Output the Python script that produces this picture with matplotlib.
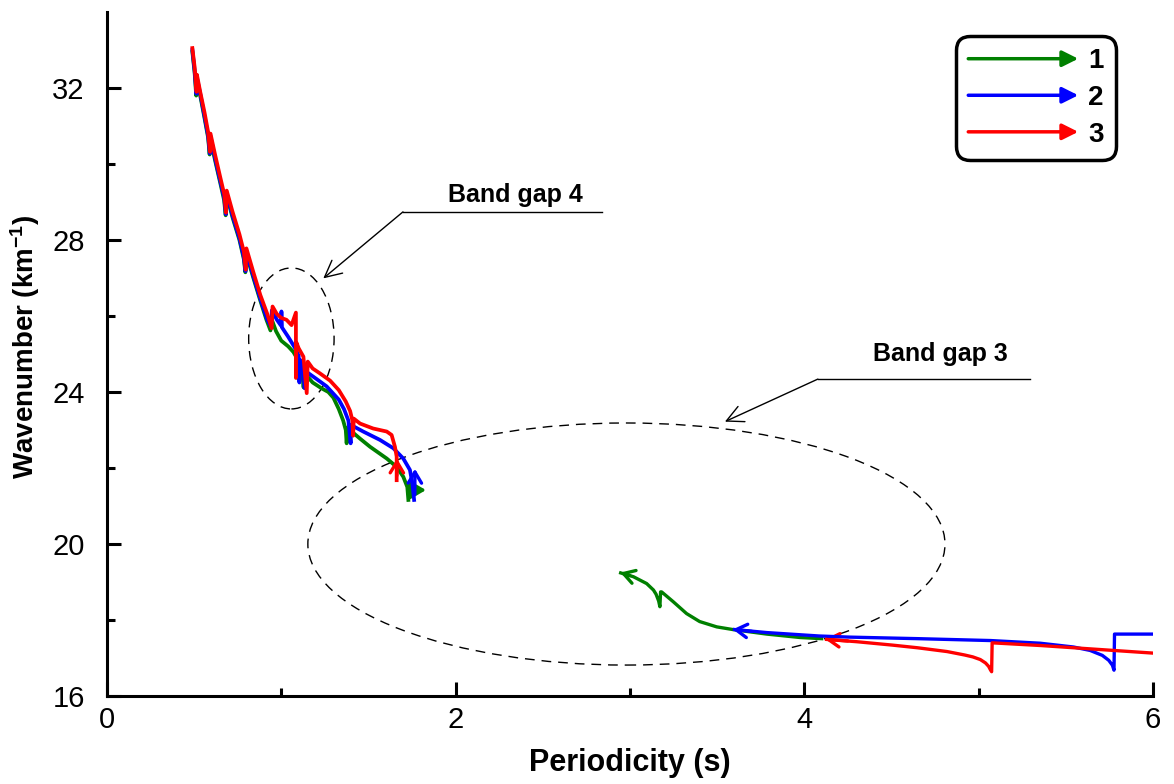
import matplotlib
matplotlib.use("Agg")
import matplotlib.pyplot as plt
from matplotlib.legend_handler import HandlerBase
from matplotlib.patches import FancyArrowPatch, Ellipse
from matplotlib.lines import Line2D

plt.rcParams["font.family"] = ["Liberation Sans", "DejaVu Sans"]
plt.rcParams["mathtext.fontset"] = "custom"
plt.rcParams["mathtext.rm"] = "Liberation Sans:bold"
plt.rcParams["mathtext.default"] = "rm"

# Upper branches (periodicity s, wavenumber 1/km)
r_up_x = [0.490, 0.503, 0.514, 0.516, 0.535, 0.560, 0.580, 0.591, 0.594, 0.620, 0.650, 0.673, 0.683, 0.687,
	0.720, 0.760, 0.785, 0.796, 0.800, 0.840, 0.880, 0.920, 0.945, 0.950, 0.975, 1.000, 1.030, 1.059, 1.084,
	1.084, 1.087, 1.100, 1.127, 1.146, 1.152, 1.180, 1.222, 1.280, 1.330, 1.370, 1.395, 1.408, 1.412, 1.416,
	1.452, 1.527, 1.605, 1.633, 1.652, 1.662, 1.662]
r_up_y = [33.05, 32.55, 31.90, 32.35, 31.90, 31.35, 30.85, 30.32, 30.80, 30.25, 29.65, 29.20, 28.72, 29.30,
	28.75, 28.15, 27.70, 27.22, 27.78, 27.15, 26.55, 26.05, 25.68, 26.25, 26.05, 25.95, 25.90, 25.76, 26.09,
	24.37, 25.30, 25.15, 24.93, 23.97, 24.80, 24.62, 24.49, 24.30, 24.05, 23.75, 23.50, 23.25, 22.85, 23.30,
	23.17, 23.04, 22.96, 22.87, 22.56, 22.30, 21.68]

b_up_x = [0.490, 0.503, 0.513, 0.515, 0.535, 0.560, 0.580, 0.590, 0.593, 0.620, 0.650, 0.673, 0.682, 0.686,
	0.720, 0.760, 0.785, 0.795, 0.799, 0.840, 0.880, 0.920, 0.942, 0.946, 0.975, 0.998, 1.001, 1.004, 1.040,
	1.080, 1.100, 1.104, 1.107, 1.125, 1.134, 1.139, 1.200, 1.260, 1.300, 1.330, 1.360, 1.385, 1.398, 1.401,
	1.470, 1.566, 1.643, 1.700, 1.738, 1.752, 1.762]
b_up_y = [33.00, 32.45, 31.85, 32.30, 31.85, 31.25, 30.75, 30.28, 30.75, 30.15, 29.55, 29.10, 28.68, 29.25,
	28.65, 28.05, 27.55, 27.18, 27.70, 27.05, 26.45, 25.90, 25.72, 26.15, 25.90, 25.75, 26.12, 25.70, 25.45,
	25.15, 24.95, 24.25, 24.85, 24.65, 24.10, 24.55, 24.35, 24.15, 23.95, 23.80, 23.55, 23.25, 22.65, 23.13,
	22.96, 22.74, 22.52, 22.25, 21.95, 21.60, 21.16]

g_up_x = [0.490, 0.503, 0.512, 0.514, 0.535, 0.560, 0.580, 0.589, 0.592, 0.620, 0.650, 0.672, 0.681, 0.685,
	0.720, 0.760, 0.785, 0.794, 0.798, 0.840, 0.880, 0.915, 0.938, 0.942, 0.970, 1.000, 1.040, 1.070, 1.095,
	1.098, 1.101, 1.118, 1.128, 1.133, 1.180, 1.230, 1.270, 1.299, 1.330, 1.355, 1.370, 1.375, 1.380, 1.394,
	1.450, 1.509, 1.605, 1.662, 1.700, 1.723, 1.729]
g_up_y = [32.95, 32.40, 31.80, 32.25, 31.80, 31.20, 30.70, 30.25, 30.70, 30.10, 29.50, 29.05, 28.65, 29.20,
	28.60, 28.00, 27.50, 27.15, 27.65, 27.00, 26.40, 25.90, 25.62, 25.95, 25.60, 25.35, 25.20, 25.05, 24.85,
	24.35, 24.80, 24.60, 24.12, 24.50, 24.25, 24.10, 24.00, 23.85, 23.55, 23.25, 23.00, 22.65, 23.05, 23.00,
	22.78, 22.56, 22.25, 22.03, 21.77, 21.50, 21.16]

# Lower branches, traced from right to left
b_lo_x = [6.000, 5.780, 5.777, 5.768, 5.747, 5.710, 5.640, 5.545, 5.353, 5.070, 4.650, 4.263, 4.085, 3.785, 3.600]
b_lo_y = [17.63, 17.63, 16.68, 16.81, 16.94, 17.07, 17.20, 17.29, 17.39, 17.46, 17.51, 17.55, 17.58, 17.67, 17.75]

r_lo_x = [6.000, 5.353, 5.078, 5.075, 5.067, 5.058, 5.040, 5.010, 4.967, 4.920, 4.820, 4.650, 4.506, 4.300, 4.128]
r_lo_y = [17.13, 17.33, 17.40, 16.64, 16.70, 16.78, 16.87, 16.96, 17.03, 17.08, 17.17, 17.27, 17.34, 17.43, 17.49]

g_lo_x = [4.100, 3.976, 3.785, 3.590, 3.498, 3.400, 3.325, 3.249, 3.182, 3.176, 3.172, 3.165, 3.150, 3.135,
	3.096, 3.020, 2.947]
g_lo_y = [17.51, 17.54, 17.63, 17.75, 17.82, 17.96, 18.17, 18.48, 18.74, 18.74, 18.35, 18.50, 18.68, 18.79,
	18.96, 19.14, 19.24]

labels = ["1", "2", "3"]
colors = ["#008000", "#0000ff", "#ff0000"]


class ArrowHandler(HandlerBase):
	def create_artists(self, legend, orig_handle, xdescent, ydescent, width, height, fontsize, trans):
		y = (height - ydescent) / 2
		arrow = FancyArrowPatch((-xdescent, y), (width - xdescent, y), arrowstyle="-|>,head_length=0.6,head_width=0.3",
			mutation_scale=16, color=orig_handle.get_color(), lw=2.5, shrinkA=0, shrinkB=0, transform=trans)
		return [arrow]


def end_arrow(ax, tip, tail, color, style="->,head_length=0.5,head_width=0.3"):
	ax.annotate("", xy=tip, xytext=tail,
		arrowprops=dict(arrowstyle=style, color=color, lw=2.4, mutation_scale=16, shrinkA=0, shrinkB=0))


fig = plt.figure(figsize=(11.74, 7.84), dpi=100)
ax = fig.add_axes([0.0911, 0.1122, 0.8909, 0.8725])

# Dashed band gap outlines
ax.add_patch(Ellipse((1.058, 25.41), 0.49, 3.71, fill=False, ec="black", lw=1, ls=(0, (7, 5))))
ax.add_patch(Ellipse((2.98, 20.0), 3.655, 6.37, fill=False, ec="black", lw=1, ls=(0, (7, 5))))

# Curves
ax.plot(g_up_x, g_up_y, color=colors[0], lw=2.7, zorder=3)
ax.plot(b_up_x, b_up_y, color=colors[1], lw=2.7, zorder=4)
ax.plot(r_up_x, r_up_y, color=colors[2], lw=2.7, zorder=5)
ax.plot(g_lo_x, g_lo_y, color=colors[0], lw=2.4, zorder=3)
ax.plot(b_lo_x, b_lo_y, color=colors[1], lw=2.4, zorder=4)
ax.plot(r_lo_x, r_lo_y, color=colors[2], lw=2.4, zorder=5)

end_arrow(ax, (1.83, 21.42), (1.735, 21.42), colors[0], "-|>,head_length=0.6,head_width=0.35")
end_arrow(ax, (1.767, 21.98), (1.766, 21.3), colors[1])
end_arrow(ax, (1.664, 22.25), (1.663, 21.8), colors[2])
end_arrow(ax, (2.945, 19.25), (3.0, 19.17), colors[0])
end_arrow(ax, (3.59, 17.755), (3.70, 17.70), colors[1])
end_arrow(ax, (4.12, 17.495), (4.25, 17.45), colors[2])

# Band gap annotations
ax.plot([1.698, 2.84], [28.74, 28.74], color="black", lw=1)
ax.annotate("", xy=(1.241, 26.99), xytext=(1.698, 28.74),
	arrowprops=dict(arrowstyle="->,head_length=0.6,head_width=0.3", color="black", lw=1, mutation_scale=20, shrinkA=0, shrinkB=0))
ax.text(2.343, 29.0, "Band gap 4", ha="center", va="baseline", fontsize=18, fontweight="bold")

ax.plot([4.078, 5.295], [24.34, 24.34], color="black", lw=1)
ax.annotate("", xy=(3.545, 23.22), xytext=(4.078, 24.34),
	arrowprops=dict(arrowstyle="->,head_length=0.6,head_width=0.3", color="black", lw=1, mutation_scale=20, shrinkA=0, shrinkB=0))
ax.text(4.78, 24.82, "Band gap 3", ha="center", va="baseline", fontsize=18, fontweight="bold")

# Axes
ax.set_xlim(0, 6)
ax.set_ylim(16, 34)
ax.set_xticks([0, 2, 4, 6])
ax.set_xticks([1, 3, 5], minor=True)
ax.set_yticks([16, 20, 24, 28, 32])
ax.set_yticks([18, 22, 26, 30], minor=True)
for side in ["top", "right"]:
	ax.spines[side].set_visible(False)
for side in ["left", "bottom"]:
	ax.spines[side].set_linewidth(2.2)
ax.tick_params(which="both", direction="in", width=2.2, labelsize=21)
ax.tick_params(which="major", length=10)
ax.tick_params(which="minor", length=6)
ax.tick_params(axis="y", which="major", pad=16)
ax.tick_params(axis="x", which="major", pad=7)

ax.set_xlabel("Periodicity (s)", fontsize=22, fontweight="bold")
ax.set_ylabel("Wavenumber (km$^{-1}$)", fontsize=20, fontweight="bold")
ax.xaxis.set_label_coords(0.5, -0.076)
ax.yaxis.set_label_coords(-0.062, 0.51)

# Legend with arrow handles
handles = [Line2D([], [], color=c) for c in colors]
leg = ax.legend(handles, labels, loc="upper right", bbox_to_anchor=(0.965, 0.965), borderaxespad=0,
	handler_map={Line2D: ArrowHandler()}, handlelength=3.96, handletextpad=0.36, borderpad=0.45,
	labelspacing=0.38, prop={"weight": "bold", "size": 20}, fancybox=True, framealpha=1, edgecolor="black")
leg.get_frame().set_linewidth(2.5)
leg.get_frame().set_boxstyle("round,pad=0,rounding_size=0.5")

fig.savefig("out.png", dpi=100)
